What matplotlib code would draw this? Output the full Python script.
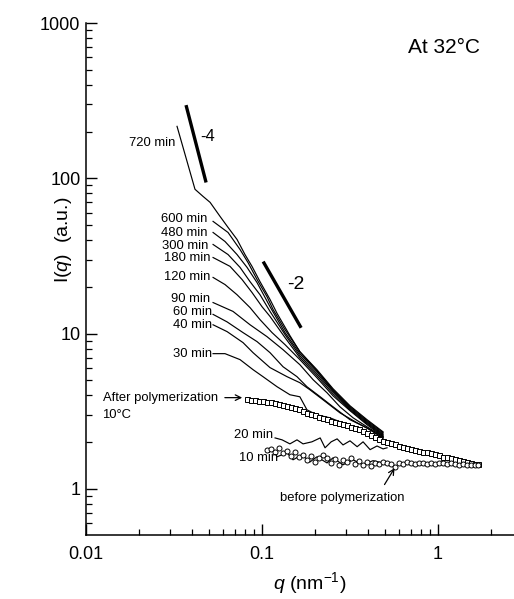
import matplotlib
matplotlib.use("Agg")
import matplotlib.pyplot as plt
from matplotlib.ticker import LogLocator, FixedLocator, FixedFormatter, NullFormatter

plt.rcParams['font.family'] = ['Liberation Sans', 'DejaVu Sans']
plt.rcParams['mathtext.fontset'] = 'custom'
plt.rcParams['mathtext.rm'] = 'Liberation Sans'
plt.rcParams['mathtext.it'] = 'Liberation Sans:italic'

# ---------------- data ----------------
q720 = [0.0329, 0.0416, 0.0462, 0.0507, 0.0577, 0.0641, 0.0721, 0.0800, 0.0877, 0.0974,
        0.111, 0.1217, 0.144, 0.164, 0.205, 0.253, 0.316, 0.395, 0.487]
I720 = [216, 85, 76.5, 70, 56.9, 48.3, 40.4, 32.3, 27.1, 21.6,
        16.6, 13.5, 9.71, 7.65, 5.86, 4.42, 3.43, 2.79, 2.33]

q600 = [0.0527, 0.0641, 0.0750, 0.0832, 0.0937, 0.1067, 0.1155, 0.1351, 0.164, 0.205, 0.253, 0.316, 0.395, 0.487]
I600 = [52.8, 44.8, 34.8, 28.7, 22.3, 17.3, 14.3, 10.6, 7.65, 5.77, 4.35, 3.38, 2.75, 2.30]

q480 = [0.0527, 0.0616, 0.0721, 0.0822, 0.0937, 0.111, 0.1351, 0.164, 0.205, 0.253, 0.316, 0.395, 0.487]
I480 = [44.8, 39.2, 32.3, 26.7, 21.3, 14.9, 10.15, 7.43, 5.69, 4.29, 3.33, 2.71, 2.26]

q300 = [0.0527, 0.0641, 0.0750, 0.0855, 0.0974, 0.111, 0.1351, 0.164, 0.205, 0.253, 0.316, 0.395, 0.487]
I300 = [37.5, 32.3, 26.7, 21.6, 17.8, 13.9, 9.85, 7.21, 5.52, 4.22, 3.28, 2.67, 2.23]

q180 = [0.0527, 0.0658, 0.0770, 0.0877, 0.100, 0.111, 0.1351, 0.164, 0.205, 0.253, 0.316, 0.395, 0.487]
I180 = [30.9, 27.1, 22.3, 18.4, 14.9, 12.9, 9.42, 7.00, 5.36, 4.10, 3.23, 2.63, 2.20]

q120 = [0.0527, 0.0616, 0.0721, 0.0855, 0.0974, 0.114, 0.1351, 0.164, 0.205, 0.253, 0.316, 0.395, 0.487]
I120 = [23.0, 20.7, 17.8, 14.7, 12.3, 10.15, 8.49, 6.80, 5.20, 3.98, 3.19, 2.59, 2.17]

q90 = [0.0527, 0.0684, 0.0855, 0.1067, 0.1316, 0.164, 0.195, 0.234, 0.277, 0.329, 0.395, 0.487]
I90 = [15.85, 13.9, 11.4, 9.56, 7.88, 6.31, 5.05, 4.16, 3.38, 2.87, 2.51, 2.17]

q60 = [0.0527, 0.0633, 0.0780, 0.0937, 0.111, 0.1316, 0.158, 0.180, 0.214, 0.253, 0.316, 0.395, 0.487]
I60 = [13.3, 11.9, 10.15, 8.88, 7.54, 6.12, 5.28, 4.55, 3.92, 3.38, 2.79, 2.47, 2.13]

q40 = [0.0527, 0.0633, 0.0780, 0.0889, 0.111, 0.1387, 0.164, 0.187, 0.222, 0.277, 0.338, 0.411, 0.487]
I40 = [11.4, 10.3, 8.75, 7.54, 6.04, 5.28, 4.83, 4.35, 3.75, 3.09, 2.71, 2.40, 2.13]

q30 = [0.0527, 0.0616, 0.0750, 0.0889, 0.1013, 0.1217, 0.144, 0.164, 0.180, 0.205, 0.243, 0.296, 0.360, 0.422, 0.487]
I30 = [7.43, 7.43, 6.80, 5.86, 5.28, 4.55, 4.04, 3.92, 3.23, 3.00, 2.87, 2.63, 2.40, 2.26, 2.13]

q20 = [0.1186, 0.130, 0.144, 0.158, 0.171, 0.192, 0.214, 0.228, 0.247, 0.267, 0.2885, 0.316, 0.347, 0.375, 0.411, 0.450, 0.487, 0.513]
I20 = [2.13, 2.07, 1.95, 2.07, 1.95, 2.01, 2.13, 1.84, 2.01, 2.10, 1.92, 2.04, 1.87, 2.01, 1.79, 1.89, 1.81, 1.84]

q10 = [0.1217, 0.1387, 0.150, 0.169, 0.187, 0.205, 0.234, 0.253, 0.2885, 0.329, 0.375, 0.427, 0.487]
I10 = [1.61, 1.71, 1.54, 1.66, 1.49, 1.61, 1.47, 1.585, 1.43, 1.54, 1.43, 1.52, 1.47]

# after polymerization at 10 C (open squares)
q_after = [0.0822, 0.0866, 0.0912, 0.0961, 0.1013, 0.1068, 0.1125, 0.1186, 0.1249, 0.1316,
           0.1387, 0.1462, 0.1540, 0.1623, 0.1710, 0.1802, 0.1898, 0.2000, 0.2108, 0.2221,
           0.2340, 0.2466, 0.2599, 0.2738, 0.2885, 0.3041, 0.3204, 0.3376, 0.3557, 0.3749,
           0.3950, 0.4162, 0.4386, 0.4622, 0.4870, 0.5132, 0.5408, 0.5698, 0.6005, 0.6327,
           0.6668, 0.7026, 0.7404, 0.7802, 0.8221, 0.8663, 0.9128, 0.9618, 1.013, 1.068,
           1.125, 1.186, 1.249, 1.316, 1.387, 1.462, 1.540, 1.623, 1.688]
I_after = [3.81, 3.75, 3.75, 3.70, 3.70, 3.64, 3.64, 3.59, 3.53, 3.48,
           3.43, 3.38, 3.33, 3.28, 3.19, 3.09, 3.05, 3.00, 2.91, 2.87,
           2.83, 2.75, 2.71, 2.67, 2.63, 2.59, 2.51, 2.47, 2.44, 2.37,
           2.30, 2.23, 2.17, 2.10, 2.04, 2.01, 1.98, 1.95, 1.89, 1.87,
           1.84, 1.81, 1.79, 1.76, 1.73, 1.73, 1.71, 1.68, 1.66, 1.61,
           1.61, 1.585, 1.56, 1.54, 1.52, 1.49, 1.47, 1.45, 1.45]

# before polymerization (open circles)
q_before = [0.1068, 0.1125, 0.1186, 0.1249, 0.1316, 0.1387, 0.1462, 0.1540, 0.1623, 0.1710,
            0.1802, 0.1898, 0.2000, 0.2108, 0.2221, 0.2340, 0.2466, 0.2599, 0.2738, 0.2885,
            0.3041, 0.3204, 0.3376, 0.3557, 0.3749, 0.3950, 0.4162, 0.4386, 0.4622, 0.4870,
            0.5132, 0.5408, 0.5698, 0.6005, 0.6327, 0.6668, 0.7026, 0.7404, 0.7802, 0.8221,
            0.8663, 0.9128, 0.9618, 1.013, 1.068, 1.125, 1.186, 1.249, 1.316, 1.387,
            1.462, 1.540, 1.623, 1.688]
I_before = [1.79, 1.81, 1.73, 1.84, 1.71, 1.76, 1.63, 1.73, 1.61, 1.66,
            1.54, 1.63, 1.49, 1.585, 1.66, 1.585, 1.47, 1.56, 1.43, 1.54,
            1.49, 1.585, 1.45, 1.52, 1.43, 1.49, 1.41, 1.47, 1.45, 1.49,
            1.47, 1.45, 1.39, 1.47, 1.45, 1.49, 1.47, 1.45, 1.47, 1.47,
            1.45, 1.47, 1.45, 1.47, 1.47, 1.45, 1.47, 1.45, 1.43, 1.45,
            1.43, 1.43, 1.43, 1.43]

# slope guide lines: (q, I) end points
slope4_q = [0.0370, 0.0481]
slope4_I = [296, 94]
slope2_q = [0.1015, 0.1667]
slope2_I = [29.1, 10.9]

curve_labels = ["720 min", "600 min", "480 min", "300 min", "180 min",
                "120 min", "90 min", "60 min", "40 min", "30 min"]
label_q = [0.0321, 0.0487, 0.0487, 0.0493, 0.0507, 0.0507, 0.0507, 0.052, 0.052, 0.052]
label_I = [169, 54.4, 44.2, 36.4, 30.5, 23.3, 16.6, 13.7, 11.3, 7.43]

xticks = [0.01, 0.1, 1]
xticklabels = ["0.01", "0.1", "1"]
yticks = [1, 10, 100, 1000]
yticklabels = ["1", "10", "100", "1000"]

# ---------------- figure ----------------
W, H = 514, 599
fig = plt.figure(figsize=(W / 100, H / 100), dpi=100)
ax = fig.add_axes([86 / W, 1 - 535 / H, 1 - 86 / W, (535 - 23) / H])
ax.set_xscale('log')
ax.set_yscale('log')
ax.set_xlim(0.01, 2.70)
ax.set_ylim(0.505, 1000)

lw = 0.85
for qs, Is in [(q720, I720), (q600, I600), (q480, I480), (q300, I300), (q180, I180),
               (q120, I120), (q90, I90), (q60, I60), (q40, I40), (q30, I30),
               (q20, I20), (q10, I10)]:
    ax.plot(qs, Is, color='black', lw=lw)

ax.plot(q_after, I_after, linestyle='none', marker='s', ms=3.6, mfc='white',
        mec='black', mew=0.7)
ax.plot(q_before, I_before, linestyle='none', marker='o', ms=3.6, mfc='white',
        mec='black', mew=0.7)

ax.plot(slope4_q, slope4_I, color='black', lw=2.4, solid_capstyle='butt')
ax.plot(slope2_q, slope2_I, color='black', lw=2.4, solid_capstyle='butt')
ax.text(0.0493, 187, "-4", fontsize=12, ha='center', va='center')
ax.text(0.156, 20.7, "-2", fontsize=14, ha='center', va='center')

lab_fs = 9.4
for lab, lq, li in zip(curve_labels, label_q, label_I):
    ax.text(lq, li, lab, fontsize=lab_fs, ha='right', va='center')

ax.text(0.0562, 3.87, "After polymerization", fontsize=lab_fs, ha='right', va='center')
ax.text(0.0123, 3.0, "10°C", fontsize=lab_fs, ha='left', va='center')
ax.annotate("", xy=(0.080, 3.87), xytext=(0.0593, 3.87),
            arrowprops=dict(arrowstyle='->', color='black', lw=0.9))
ax.text(0.1155, 2.23, "20 min", fontsize=lab_fs, ha='right', va='center')
ax.text(0.1233, 1.585, "10 min", fontsize=lab_fs, ha='right', va='center')
ax.text(0.285, 0.875, "before polymerization", fontsize=lab_fs, ha='center', va='center')
ax.annotate("", xy=(0.577, 1.41), xytext=(0.487, 1.03),
            arrowprops=dict(arrowstyle='->', color='black', lw=0.9))

ax.text(0.92, 0.953, "At 32°C", fontsize=15, ha='right', va='center', transform=ax.transAxes)

# axes styling
for s in ['top', 'right']:
    ax.spines[s].set_visible(False)
for s in ['left', 'bottom']:
    ax.spines[s].set_linewidth(1.1)
ax.xaxis.set_major_locator(FixedLocator(xticks))
ax.xaxis.set_major_formatter(FixedFormatter(xticklabels))
ax.yaxis.set_major_locator(FixedLocator(yticks))
ax.yaxis.set_major_formatter(FixedFormatter(yticklabels))
ax.xaxis.set_minor_locator(LogLocator(base=10, subs=range(2, 10), numticks=20))
ax.yaxis.set_minor_locator(LogLocator(base=10, subs=range(2, 10), numticks=20))
ax.xaxis.set_minor_formatter(NullFormatter())
ax.yaxis.set_minor_formatter(NullFormatter())
ax.tick_params(which='major', direction='in', length=8, width=1.0, labelsize=13)
ax.tick_params(axis='y', which='major', pad=4)
ax.tick_params(axis='x', which='major', pad=8)
ax.tick_params(which='minor', direction='in', length=4, width=0.9)
ax.tick_params(top=False, right=False, which='both')

fig.text(63 / W, 1 - 240 / H, "I($q$)  (a.u.)", rotation=90, fontsize=14,
         ha='center', va='center')
fig.text(310 / W, 1 - 583 / H, "$q$ (nm$^{-1}$)", fontsize=14, ha='center', va='center')

fig.savefig("out.png", dpi=100)
